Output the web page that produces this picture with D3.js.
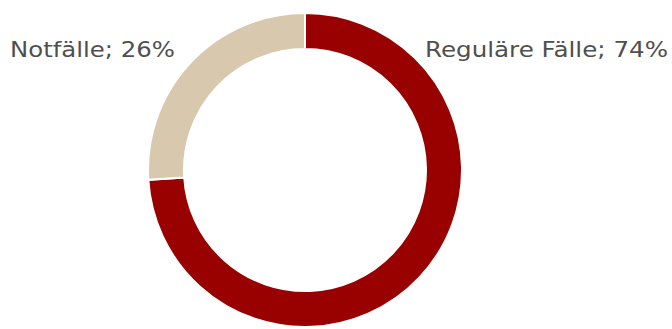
<!DOCTYPE html>
<html>
<head>
<meta charset="utf-8">
<script src="https://cdn.jsdelivr.net/npm/d3@7"></script>
<style>
  html, body { margin: 0; padding: 0; background: #fff; }
  svg { display: block; }
</style>
</head>
<body>
<svg id="chart" width="672" height="329"></svg>
<script>
// Share of cases
const categories = ["Reguläre Fälle", "Notfälle"];
const shares = [74, 26];
const colors = ["#990000", "#d8c8ae"];

const width = 672, height = 329;
const cx = 305, cy = 170;
const outerR = 157, innerR = 121;

const svg = d3.select("#chart");
const g = svg.append("g").attr("transform", `translate(${cx},${cy})`);

const pie = d3.pie().sort(null).value(d => d.value);
const arcs = pie(categories.map((c, i) => ({ name: c, value: shares[i] })));
const arc = d3.arc().innerRadius(innerR).outerRadius(outerR);

g.selectAll("path")
  .data(arcs)
  .join("path")
  .attr("d", arc)
  .attr("fill", (d, i) => colors[i])
  .attr("stroke", "#fff")
  .attr("stroke-width", 2);

// Labels, fitted to their set widths
const labelFont = "'DejaVu Sans', sans-serif";
const labels = [
  { x: 425, y: 57, w: 243, text: `${categories[0]}; ${shares[0]}%` },
  { x: 10, y: 57, w: 165, text: `${categories[1]}; ${shares[1]}%` }
];
svg.selectAll("text.label")
  .data(labels)
  .join("text")
  .attr("class", "label")
  .attr("x", d => d.x).attr("y", d => d.y)
  .attr("font-family", labelFont)
  .attr("font-size", 21)
  .attr("fill", "#4f4f4f")
  .attr("textLength", d => d.w)
  .attr("lengthAdjust", "spacingAndGlyphs")
  .text(d => d.text);
</script>
</body>
</html>
